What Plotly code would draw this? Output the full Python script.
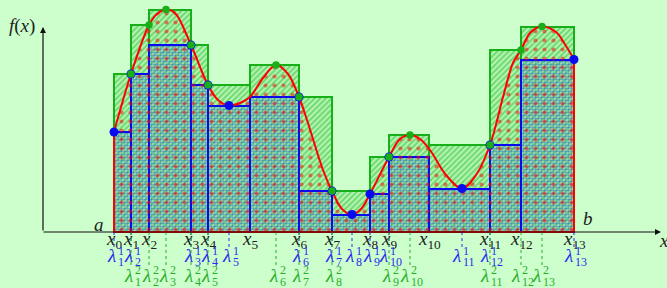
import plotly.graph_objects as go

# ---- data (units: pixels from the axes origin) ----
partition = [70, 87, 105, 147, 164, 206, 255, 288, 326, 345, 385, 446, 477, 530]
lam1_x = [70, 87, 147, 164, 185, 255, 288, 308, 326, 345, 418, 446, 530]
lam1_f = [100, 158, 187, 147, 126.5, 135, 41, 17.5, 38, 75, 43.5, 87, 172.5]
lam2_x = [87, 105, 122, 147, 164, 232, 255, 288, 345, 366, 446, 477, 498]
lam2_f = [158, 207, 222.5, 187, 147, 167, 135, 41, 75, 97, 87, 182, 205.5]
curve_x = [70, 87, 105, 113, 122, 131, 147, 164, 174, 185, 196, 206, 219, 232, 244, 255,
           263, 279, 288, 298, 308, 317, 326, 345, 356, 366, 376, 386, 402, 418, 432, 446,
           459, 469, 477, 486, 497, 512, 522, 530]
curve_y = [100, 158, 207, 218, 222.5, 219, 187, 147, 132, 126.5, 129, 135, 154, 167, 158, 135,
           112, 62, 41, 23, 17.5, 23, 38, 75, 93, 97, 93, 82, 57, 43.5, 57, 87,
           135, 169, 182, 199, 205.5, 200, 186, 172.5]

BG = "#ccffcc"
GREEN = "#18b018"
BLUE = "#0a0af0"
RED = "#ff0000"
LBLUE = "#2c2cf0"
LGREEN = "#2aae2a"
FONT = "Liberation Serif"

mids = [(partition[i] + partition[i + 1]) / 2 for i in range(len(partition) - 1)]
widths = [partition[i + 1] - partition[i] for i in range(len(partition) - 1)]

fig = go.Figure()

# upper sums (green hatched)
fig.add_trace(go.Bar(
    x=mids, y=lam2_f, width=widths, base=0,
    marker=dict(color="rgba(0,0,0,0)", line=dict(color=GREEN, width=2),
                pattern=dict(shape="/", fgcolor="#22c022", bgcolor="#b8f4b8",
                             size=4, solidity=0.5)),
    hoverinfo="skip", showlegend=False))
# lower sums (blue dots)
fig.add_trace(go.Bar(
    x=mids, y=lam1_f, width=widths, base=0,
    marker=dict(color="rgba(0,0,0,0)", line=dict(color=BLUE, width=2),
                pattern=dict(shape=".", fgcolor="#1a4fd8", bgcolor="rgba(0,0,0,0)",
                             size=3, solidity=0.6)),
    hoverinfo="skip", showlegend=False))

# area under curve (red crosses)
fig.add_trace(go.Scatter(
    x=curve_x, y=curve_y, mode="lines", line=dict(color=RED, width=2, shape="spline", smoothing=1),
    fill="tozeroy", fillcolor="rgba(0,0,0,0)",
    fillpattern=dict(shape=".", fgcolor=RED, bgcolor="rgba(0,0,0,0)", size=9, solidity=0.17),
    hoverinfo="skip", showlegend=False))
fig.add_trace(go.Scatter(
    x=[partition[0], partition[0], partition[-1], partition[-1]],
    y=[curve_y[0], 0, 0, curve_y[-1]], mode="lines",
    line=dict(color=RED, width=2), hoverinfo="skip", showlegend=False))

# points
fig.add_trace(go.Scatter(x=lam1_x, y=lam1_f, mode="markers",
                         marker=dict(color=BLUE, size=9), hoverinfo="skip", showlegend=False))
fig.add_trace(go.Scatter(x=lam2_x, y=lam2_f, mode="markers",
                         marker=dict(color=GREEN, size=7.5), hoverinfo="skip", showlegend=False))

ann = []
shapes = []
# axes arrows
ann.append(dict(x=617, y=0, ax=-2, ay=0, xref="x", yref="y", axref="x", ayref="y", text="",
                showarrow=True, arrowhead=2, arrowsize=1, arrowwidth=1.2, arrowcolor="#111", standoff=0))
ann.append(dict(x=-1, y=205, ax=-1, ay=0, xref="x", yref="y", axref="x", ayref="y", text="",
                showarrow=True, arrowhead=2, arrowsize=1, arrowwidth=1.2, arrowcolor="#111", standoff=0))

def txt(x, y, t, size=19, color="#222", xanchor="center", xshift=0):
    ann.append(dict(x=x, y=y, xref="x", yref="y", text=t, showarrow=False,
                    font=dict(family=FONT, size=size, color=color),
                    xanchor=xanchor, yanchor="middle", xshift=xshift))

txt(-22, 206, "<i>f</i>(<i>x</i>)")
txt(620, -8, "<i>x</i>")
txt(55, 8, "<i>a</i>")
txt(544, 14, "<i>b</i>")

for i, px in enumerate(partition):
    txt(px, -8, "<i>x</i><sub>%d</sub>" % i)

def lam_label(x, idx, sup, ylam, ysup, ysub, color):
    sub = str(idx)
    ws = 6 * len(sub)
    total = 9.5 + ws
    txt(x, ylam, "<i>λ</i>", size=19, color=color, xshift=-total / 2 + 4.75)
    txt(x, ysup, sup, size=12, color=color, xanchor="left", xshift=-total / 2 + 9.5)
    txt(x, ysub, sub, size=12, color=color, xanchor="left", xshift=-total / 2 + 9.5)

for i, lx in enumerate(lam1_x):
    shapes.append(dict(type="line", x0=lx, x1=lx, y0=0, y1=-16, xref="x", yref="y",
                       line=dict(color=LBLUE, width=1, dash="dot")))
    lam_label(lx, i + 1, "1", -23, -19, -30, LBLUE)
for i, lx in enumerate(lam2_x):
    shapes.append(dict(type="line", x0=lx, x1=lx, y0=0, y1=-36, xref="x", yref="y",
                       line=dict(color=LGREEN, width=1, dash="dot")))
    lam_label(lx, i + 1, "2", -43.5, -37.5, -49.5, LGREEN)

fig.update_layout(
    width=667, height=288, margin=dict(l=0, r=0, t=0, b=0),
    paper_bgcolor=BG, plot_bgcolor=BG, barmode="overlay", bargap=0,
    xaxis=dict(range=[-44, 623], visible=False, fixedrange=True),
    yaxis=dict(range=[-56, 232], visible=False, fixedrange=True),
    annotations=ann, shapes=shapes, showlegend=False,
)

fig.write_html("out.html", config={"displayModeBar": False},
               post_script="document.body.style.margin='0';document.body.style.overflow='hidden';")
